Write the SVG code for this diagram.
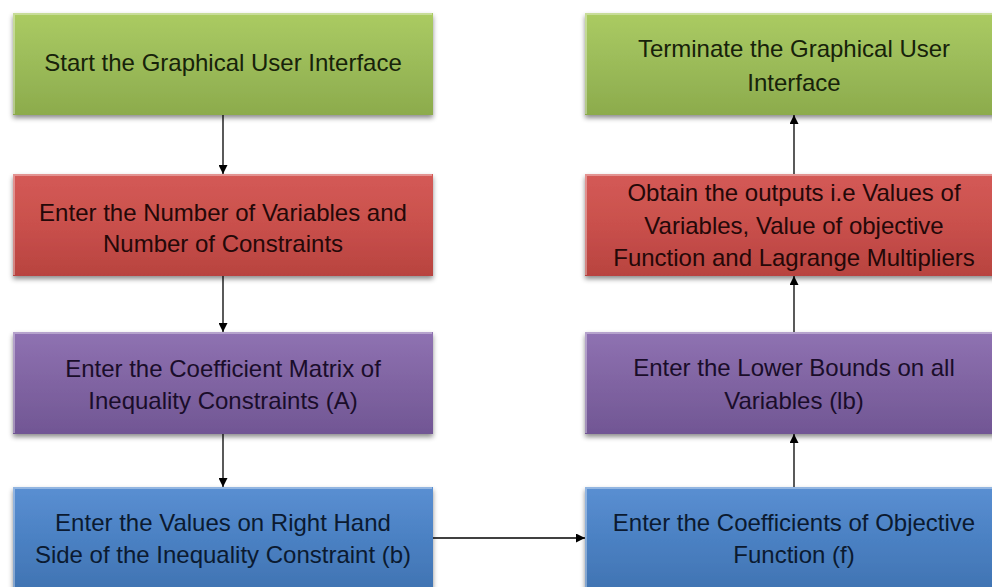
<svg xmlns="http://www.w3.org/2000/svg" width="992" height="587" viewBox="0 0 992 587">
<defs>
<linearGradient id="gG" x1="0" y1="0" x2="0" y2="1"><stop offset="0" stop-color="#abcb62"/><stop offset="0.5" stop-color="#9bbb59"/><stop offset="1" stop-color="#8cab4c"/></linearGradient>
<linearGradient id="gR" x1="0" y1="0" x2="0" y2="1"><stop offset="0" stop-color="#d45a56"/><stop offset="0.5" stop-color="#c9504c"/><stop offset="1" stop-color="#b8433f"/></linearGradient>
<linearGradient id="gP" x1="0" y1="0" x2="0" y2="1"><stop offset="0" stop-color="#8f72b2"/><stop offset="0.5" stop-color="#8064a2"/><stop offset="1" stop-color="#715694"/></linearGradient>
<linearGradient id="gB" x1="0" y1="0" x2="0" y2="1"><stop offset="0" stop-color="#5a8fd2"/><stop offset="0.5" stop-color="#4a80c2"/><stop offset="1" stop-color="#3f72b0"/></linearGradient>
<filter id="sh" x="-5%" y="-10%" width="110%" height="130%"><feDropShadow dx="0" dy="3" stdDeviation="2.5" flood-color="#000" flood-opacity="0.45"/></filter>
<marker id="ah" viewBox="0 0 10 10" refX="10" refY="5" markerWidth="9" markerHeight="9" markerUnits="userSpaceOnUse" orient="auto"><path d="M0,0 L10,5 L0,10 z" fill="#000"/></marker>
</defs>
<style>
.box{filter:url(#sh)}
.hl{fill:none;stroke:#fff;stroke-opacity:0.35;stroke-width:2}
text{font-family:"Liberation Sans",Arial,sans-serif;font-size:24px;text-anchor:middle}
.tg{fill:#17220a}.tr{fill:#240808}.tp{fill:#1a0d2a}.tb{fill:#0b1a30}
.cn{stroke:#000;stroke-width:1.3;fill:none;marker-end:url(#ah)}
</style>
<rect width="992" height="587" fill="#fff"/>
<g id="n1"><rect class="box" x="13" y="13" width="420" height="102" fill="url(#gG)"/><path class="hl" d="M14,114 V14 H432"/><text class="tg" x="223" y="71">Start the Graphical User Interface</text></g>
<g id="n2"><rect class="box" x="13" y="174" width="420" height="102" fill="url(#gR)"/><path class="hl" d="M14,275 V175 H432"/><text class="tr" x="223" y="221">Enter the Number of Variables and</text><text class="tr" x="223" y="252">Number of Constraints</text></g>
<g id="n3"><rect class="box" x="13" y="332" width="420" height="102" fill="url(#gP)"/><path class="hl" d="M14,433 V333 H432"/><text class="tp" x="223" y="377">Enter the Coefficient Matrix of</text><text class="tp" x="223" y="409">Inequality Constraints (A)</text></g>
<g id="n4"><rect class="box" x="13" y="487" width="420" height="110" fill="url(#gB)"/><path class="hl" d="M14,597 V488 H432"/><text class="tb" x="223" y="531">Enter the Values on Right Hand</text><text class="tb" x="223" y="563">Side of the Inequality Constraint (b)</text></g>
<g id="n5"><rect class="box" x="585" y="487" width="420" height="110" fill="url(#gB)"/><path class="hl" d="M586,597 V488 H1004"/><text class="tb" x="794" y="531">Enter the Coefficients of Objective</text><text class="tb" x="794" y="563">Function (f)</text></g>
<g id="n6"><rect class="box" x="585" y="332" width="420" height="102" fill="url(#gP)"/><path class="hl" d="M586,433 V333 H1004"/><text class="tp" x="794" y="376">Enter the Lower Bounds on all</text><text class="tp" x="794" y="409">Variables (lb)</text></g>
<g id="n7"><rect class="box" x="585" y="174" width="420" height="102" fill="url(#gR)"/><path class="hl" d="M586,275 V175 H1004"/><text class="tr" x="794" y="201">Obtain the outputs i.e Values of</text><text class="tr" x="794" y="234">Variables, Value of objective</text><text class="tr" x="794" y="266">Function and Lagrange Multipliers</text></g>
<g id="n8"><rect class="box" x="585" y="13" width="420" height="102" fill="url(#gG)"/><path class="hl" d="M586,114 V14 H1004"/><text class="tg" x="794" y="57">Terminate the Graphical User</text><text class="tg" x="794" y="91">Interface</text></g>
<g id="connectors">
<line class="cn" x1="223" y1="115" x2="223" y2="174"/>
<line class="cn" x1="223" y1="276" x2="223" y2="332"/>
<line class="cn" x1="223" y1="434" x2="223" y2="487"/>
<line class="cn" x1="433" y1="538" x2="585" y2="538"/>
<line class="cn" x1="794" y1="487" x2="794" y2="434"/>
<line class="cn" x1="794" y1="332" x2="794" y2="276"/>
<line class="cn" x1="794" y1="174" x2="794" y2="115"/>
</g>
</svg>
